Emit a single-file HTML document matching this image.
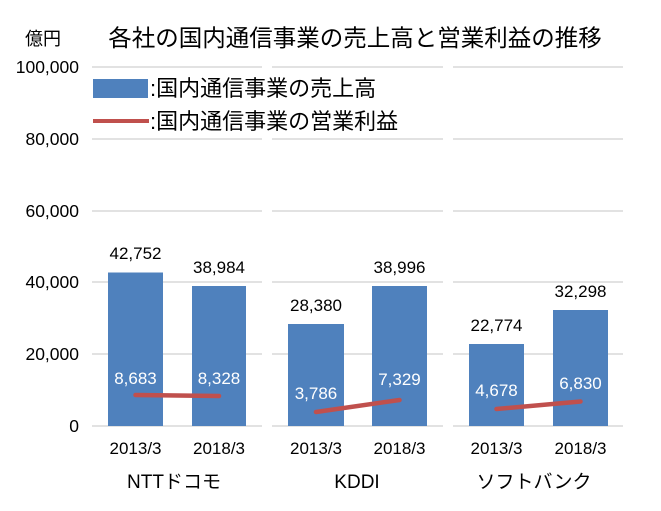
<!DOCTYPE html>
<html><head><meta charset="utf-8"><style>
body{margin:0;background:#fff}
svg text{font-family:"Liberation Sans","Noto Sans CJK JP",sans-serif}
</style></head><body>
<svg width="661" height="506" viewBox="0 0 661 506" xmlns="http://www.w3.org/2000/svg">
<rect width="661" height="506" fill="#fff"/>
<g stroke="#d9d9d9" stroke-width="1.5">
<line x1="92" x2="262" y1="67" y2="67"/><line x1="272" x2="443" y1="67" y2="67"/><line x1="453" x2="623" y1="67" y2="67"/>
<line x1="92" x2="262" y1="139" y2="139"/><line x1="272" x2="443" y1="139" y2="139"/><line x1="453" x2="623" y1="139" y2="139"/>
<line x1="92" x2="262" y1="211" y2="211"/><line x1="272" x2="443" y1="211" y2="211"/><line x1="453" x2="623" y1="211" y2="211"/>
<line x1="92" x2="262" y1="282" y2="282"/><line x1="272" x2="443" y1="282" y2="282"/><line x1="453" x2="623" y1="282" y2="282"/>
<line x1="92" x2="262" y1="354" y2="354"/><line x1="272" x2="443" y1="354" y2="354"/><line x1="453" x2="623" y1="354" y2="354"/>
<line x1="92" x2="262" y1="426" y2="426"/><line x1="272" x2="443" y1="426" y2="426"/><line x1="453" x2="623" y1="426" y2="426"/>
</g>
<g font-size="17.5" fill="#000" text-anchor="end">
<text x="79" y="73">100,000</text><text x="79" y="145">80,000</text><text x="79" y="217">60,000</text>
<text x="79" y="288">40,000</text><text x="79" y="360">20,000</text><text x="79" y="432">0</text>
</g>
<text x="25" y="45" font-size="18">億円</text>
<text x="355" y="46" font-size="23.5" text-anchor="middle">各社の国内通信事業の売上高と営業利益の推移</text>
<g fill="#4f81bd">
<rect x="108" y="272.5" width="55" height="153.5"/><rect x="192" y="286" width="54" height="140"/>
<rect x="288" y="324" width="56" height="102"/><rect x="372" y="286" width="55" height="140"/>
<rect x="469" y="344" width="55" height="82"/><rect x="553" y="310" width="55" height="116"/>
</g>
<rect x="93" y="79" width="55" height="19" fill="#4f81bd"/>
<line x1="93" x2="149" y1="121" y2="121" stroke="#c0504d" stroke-width="4"/>
<text x="150" y="96" font-size="22">:国内通信事業の売上高</text>
<text x="150" y="129" font-size="22">:国内通信事業の営業利益</text>
<g stroke="#c0504d" stroke-width="4.5" stroke-linecap="round">
<line x1="135.5" y1="395" x2="219" y2="396"/>
<line x1="316" y1="412" x2="399.5" y2="400"/>
<line x1="496.5" y1="409" x2="580.5" y2="401.5"/>
</g>
<g font-size="17" text-anchor="middle">
<text x="135.5" y="259">42,752</text><text x="219" y="273">38,984</text>
<text x="316" y="311">28,380</text><text x="399.5" y="273">38,996</text>
<text x="496.5" y="331">22,774</text><text x="580.5" y="297">32,298</text>
</g>
<g font-size="17" text-anchor="middle" fill="#fff">
<text x="135.5" y="384">8,683</text><text x="219" y="384">8,328</text>
<text x="316" y="399">3,786</text><text x="399.5" y="385">7,329</text>
<text x="496.5" y="396">4,678</text><text x="580.5" y="389">6,830</text>
</g>
<g font-size="17" text-anchor="middle">
<text x="135.5" y="454">2013/3</text><text x="219" y="454">2018/3</text>
<text x="316" y="454">2013/3</text><text x="399.5" y="454">2018/3</text>
<text x="496.5" y="454">2013/3</text><text x="580.5" y="454">2018/3</text>
</g>
<g font-size="19" text-anchor="middle">
<text x="174" y="488">NTTドコモ</text><text x="357" y="488">KDDI</text><text x="534" y="488">ソフトバンク</text>
</g>
</svg>
</body></html>
